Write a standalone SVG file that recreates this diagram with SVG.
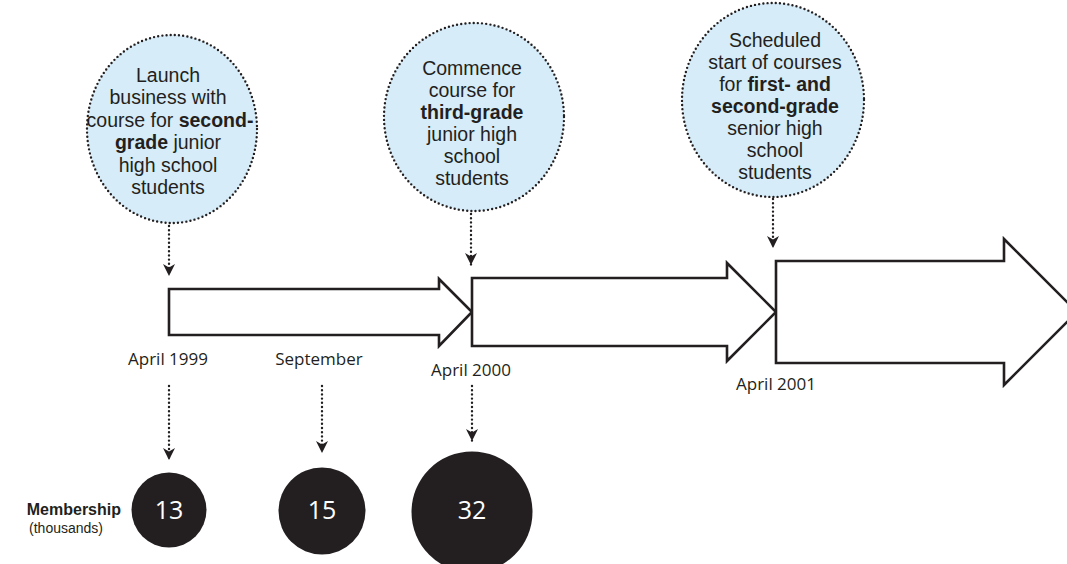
<svg xmlns="http://www.w3.org/2000/svg" width="1067" height="564" viewBox="0 0 1067 564">
<defs>
<marker id="ah" markerUnits="userSpaceOnUse" markerWidth="14" markerHeight="14" refX="12" refY="6" orient="auto">
<path d="M0,0 L12,6 L0,12 L3.5,6 Z" fill="#231f20"/>
</marker>
</defs>
<style>
.bub{fill:#d6ecf8;stroke:#231f20;stroke-width:2.4;stroke-dasharray:0 4.2;stroke-linecap:round}
.dot{fill:none;stroke:#231f20;stroke-width:2.4;stroke-dasharray:0 4.2;stroke-linecap:round}
.arr{fill:#fff;stroke:#231f20;stroke-width:2.6;stroke-linejoin:miter}
.bt{font-family:"Liberation Sans",Arial,sans-serif;font-size:19.5px;fill:#231f20;text-anchor:middle}
.lb{font-family:"Open Sans","Liberation Sans",sans-serif;font-size:17px;fill:#231f20;text-anchor:middle}
.num{font-family:"Open Sans","Liberation Sans",sans-serif;font-size:25px;font-weight:500;fill:#fff;text-anchor:middle}
.ml{font-family:"Liberation Sans",Arial,sans-serif;fill:#231f20;text-anchor:end}
.blk{fill:#231f20}
.b{font-weight:700}
</style>
<g id="connectors">
<line class="dot" x1="169" y1="226" x2="169" y2="276" marker-end="url(#ah)"/>
<line class="dot" x1="471" y1="214" x2="471" y2="265" marker-end="url(#ah)"/>
<line class="dot" x1="773" y1="199" x2="773" y2="248" marker-end="url(#ah)"/>
<line class="dot" x1="169" y1="386" x2="169" y2="460" marker-end="url(#ah)"/>
<line class="dot" x1="322" y1="386" x2="322" y2="453" marker-end="url(#ah)"/>
<line class="dot" x1="472" y1="386" x2="472" y2="441" marker-end="url(#ah)"/>
</g>
<g id="bubble1">
<ellipse class="bub" cx="172" cy="129" rx="85" ry="94"/>
<text class="bt"><tspan x="168" y="82">Launch</tspan><tspan x="168" dy="22.4">business with</tspan><tspan x="170" dy="22.4">course for <tspan class="b">second-</tspan></tspan><tspan x="168" dy="22.4"><tspan class="b">grade</tspan> junior</tspan><tspan x="168" dy="22.4">high school</tspan><tspan x="168" dy="22.4">students</tspan></text>
</g>
<g id="bubble2">
<ellipse class="bub" cx="474" cy="117" rx="90" ry="94"/>
<text class="bt"><tspan x="472" y="75">Commence</tspan><tspan x="472" dy="22">course for</tspan><tspan x="472" dy="22" class="b">third-grade</tspan><tspan x="472" dy="22">junior high</tspan><tspan x="472" dy="22">school</tspan><tspan x="472" dy="22">students</tspan></text>
</g>
<g id="bubble3">
<ellipse class="bub" cx="773" cy="100" rx="91" ry="97"/>
<text class="bt"><tspan x="775" y="47">Scheduled</tspan><tspan x="775" dy="22">start of courses</tspan><tspan x="775" dy="22">for <tspan class="b">first- and</tspan></tspan><tspan x="775" dy="22" class="b">second-grade</tspan><tspan x="775" dy="22.3">senior high</tspan><tspan x="775" dy="22">school</tspan><tspan x="775" dy="22">students</tspan></text>
</g>
<g id="arrow1">
<path class="arr" d="M169,289 L439,289 L439,279 L472,312 L439,346 L439,335 L169,335 Z"/>
</g>
<g id="arrow2">
<path class="arr" d="M472,278 L727,278 L727,263 L776,312 L727,361 L727,346 L472,346 Z"/>
</g>
<g id="arrow3">
<path class="arr" d="M776,261 L1004,261 L1004,239 L1077,312 L1004,385 L1004,363 L776,363 Z"/>
</g>
<g id="labels">
<text class="lb" x="168" y="365">April 1999</text>
<text class="lb" x="319" y="365">September</text>
<text class="lb" x="471" y="376">April 2000</text>
<text class="lb" x="776" y="390">April 2001</text>
</g>
<g id="membership-label">
<text class="ml" x="121" y="515" font-size="16" font-weight="700">Membership</text>
<text class="ml" x="103" y="533" font-size="14">(thousands)</text>
</g>
<g id="m13">
<circle class="blk" cx="169" cy="510" r="37.5"/>
<text class="num" x="169" y="519">13</text>
</g>
<g id="m15">
<circle class="blk" cx="322" cy="511" r="43.5"/>
<text class="num" x="322" y="519">15</text>
</g>
<g id="m32">
<circle class="blk" cx="472" cy="512" r="60.5"/>
<text class="num" x="472" y="519">32</text>
</g>
</svg>
